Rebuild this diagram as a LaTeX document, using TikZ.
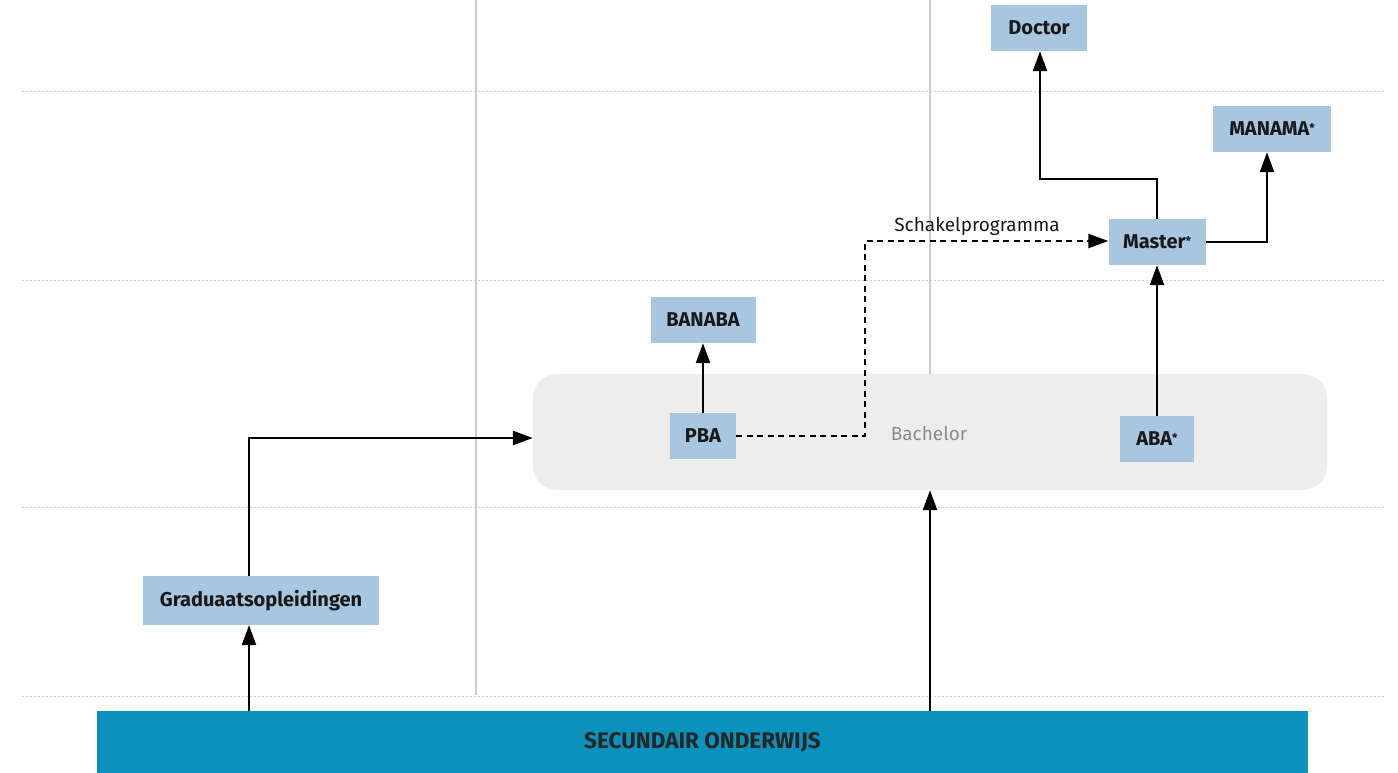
\documentclass[tikz,border=0pt]{standalone}
\usepackage{fontspec}
\setmainfont{Fira Sans}
\usetikzlibrary{arrows.meta}
\definecolor{boxblue}{HTML}{A7C7E0}
\definecolor{barblue}{HTML}{0A91BC}
\definecolor{bachgray}{HTML}{EDEDED}
\definecolor{gridgray}{HTML}{CCCCCC}
\newcommand{\smallstar}{\raisebox{0.35ex}{\fontsize{12}{12}\selectfont*}}
\begin{document}
\begin{tikzpicture}[x=1pt,y=-1pt,
  lvl/.style={fill=boxblue, inner sep=0pt, font=\fontsize{20}{22}\selectfont\bfseries, text=black!90},
  conn/.style={line width=2.4pt, -{Triangle[length=20pt,width=14pt]}},
  dconn/.style={conn, dash pattern=on 6pt off 4.5pt},
  grid/.style={gridgray, line width=0.9pt, dash pattern=on 1.5pt off 2.5pt},
  vgrid/.style={gridgray, line width=1.8pt}]
\useasboundingbox (0,0) rectangle (1398,773);
% dotted horizontal guides
\foreach \yy in {91,280,507,696} \draw[grid] (22,\yy) -- (1385,\yy);
% vertical guides
\draw[vgrid] (476,0) -- (476,695);
\draw[vgrid] (930,0) -- (930,374);
% bachelor area
\node[fill=bachgray, rounded corners=24pt, minimum width=794pt, minimum height=116pt, inner sep=0pt] (bach) at (930,432) {};
\node[text=black!45, font=\fontsize{19}{21}\selectfont] (bachlbl) at (929,433) {Bachelor};
% boxes
\node[lvl, minimum width=66pt, minimum height=46pt] (pba) at (703,436) {PBA};
\node[lvl, minimum width=105pt, minimum height=46pt] (banaba) at (703,320) {BANABA};
\node[lvl, minimum width=74pt, minimum height=46pt] (aba) at (1157,439) {ABA\smallstar};
\node[lvl, minimum width=97pt, minimum height=46pt] (master) at (1157,242) {Master\smallstar};
\node[lvl, minimum width=118pt, minimum height=46pt] (manama) at (1272,129) {MANAMA\smallstar};
\node[lvl, minimum width=96pt, minimum height=46pt] (doctor) at (1039,28) {Doctor};
\node[lvl, minimum width=236pt, minimum height=49pt] (grad) at (261,600.5) {Graduaatsopleidingen};
\node[fill=barblue, minimum width=1211pt, minimum height=62pt, inner sep=0pt,
  font=\fontsize{22.5}{24}\selectfont\bfseries, text=black!85] (sec) at (702.5,742) {SECUNDAIR ONDERWIJS};
% connectors
\draw[conn] (sec.north -| 249,0) -- (grad.south -| 249,0);
\draw[conn] (grad.north -| 249,0) |- (bach.west |- 0,438);
\draw[conn] (sec.north -| bach.south) -- (bach.south);
\draw[conn] (pba) -- (banaba);
\draw[conn] (aba) -- (master);
\draw[dconn] (pba.east) -| (865,241) -- (master.west |- 0,241);
\node[font=\fontsize{19}{21}\selectfont, text=black!90] (schakel) at (977,226) {Schakelprogramma};
\draw[conn] (master.north) -- (1157,179) -| (doctor.south -| 1040,0);
\draw[conn] (master.east) -| (manama.south -| 1267,0);
\end{tikzpicture}
\end{document}
